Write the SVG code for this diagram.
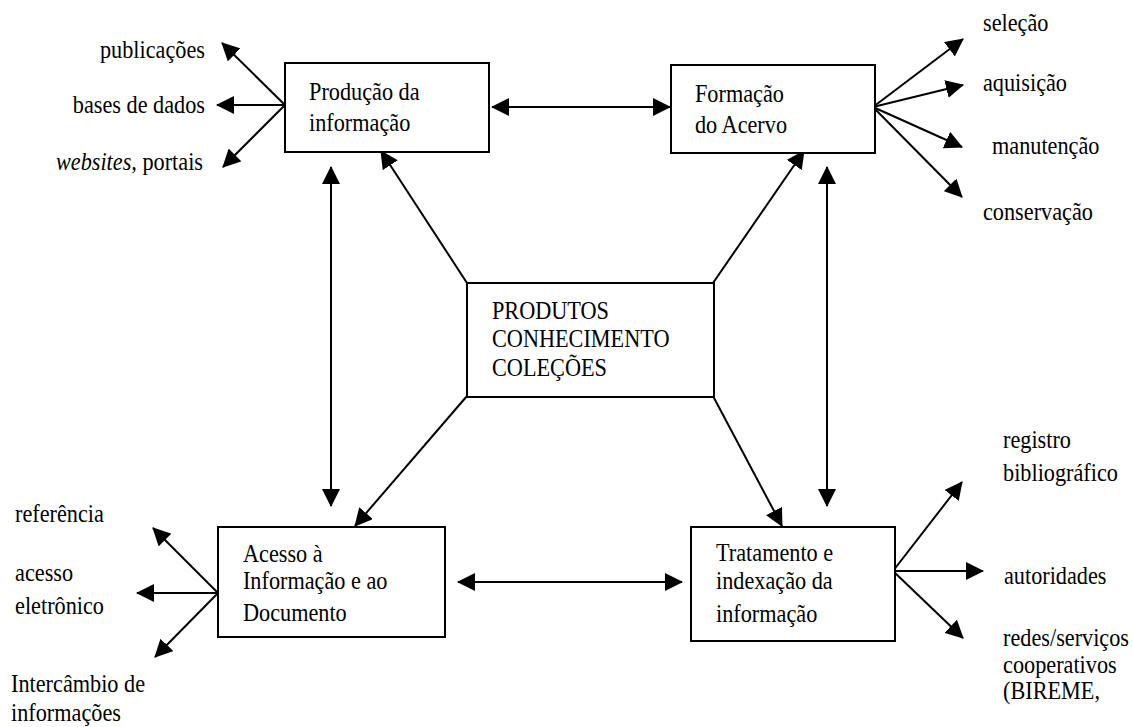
<svg xmlns="http://www.w3.org/2000/svg" width="1133" height="727" viewBox="0 0 1133 727">
<style>
text{font-family:'Liberation Serif','Times New Roman',serif;font-size:25px;fill:#000}
.box{fill:#fff;stroke:#000;stroke-width:2}
.c line{stroke:#000;stroke-width:2;marker-end:url(#ah)}
.c line.d{marker-start:url(#ah)}
.r{text-anchor:end}
</style>
<defs>
<marker id="ah" viewBox="0 0 18 18" refX="17" refY="9" markerWidth="18" markerHeight="18" markerUnits="userSpaceOnUse" orient="auto-start-reverse">
<path d="M0,0 L18,9 L0,18 z" fill="#000"/>
</marker>
</defs>
<rect width="1133" height="727" fill="#fff"/>
<g id="connectors" class="c">
<line class="d" x1="492" y1="107" x2="670" y2="107"/>
<line class="d" x1="458" y1="582" x2="682" y2="582"/>
<line class="d" x1="331" y1="167" x2="331" y2="506"/>
<line class="d" x1="827" y1="167" x2="827" y2="506"/>
<line x1="467" y1="283" x2="381" y2="151"/>
<line x1="713" y1="283" x2="804" y2="151"/>
<line x1="467" y1="396" x2="355" y2="526"/>
<line x1="713" y1="396" x2="782" y2="526"/>
<line x1="285" y1="105" x2="222" y2="43"/>
<line x1="285" y1="105" x2="217" y2="105"/>
<line x1="285" y1="105" x2="223" y2="167"/>
<line x1="873" y1="107" x2="963" y2="39"/>
<line x1="873" y1="107" x2="963" y2="85"/>
<line x1="873" y1="107" x2="962" y2="147"/>
<line x1="873" y1="107" x2="962" y2="197"/>
<line x1="893" y1="571" x2="962" y2="482"/>
<line x1="893" y1="571" x2="983" y2="571"/>
<line x1="893" y1="571" x2="963" y2="638"/>
<line x1="218" y1="593" x2="153" y2="528"/>
<line x1="218" y1="593" x2="137" y2="593"/>
<line x1="218" y1="593" x2="155" y2="657"/>
</g>
<g id="producao">
<rect class="box" x="285" y="63" width="204" height="89"/>
<g transform="scale(0.89,1)">
<text x="347.2" y="100">Produção da</text>
<text x="347.2" y="131">informação</text>
</g>
</g>
<g id="formacao">
<rect class="box" x="671" y="65" width="204" height="88"/>
<g transform="scale(0.89,1)">
<text x="780.9" y="102">Formação</text>
<text x="780.9" y="133">do Acervo</text>
</g>
</g>
<g id="centro">
<rect class="box" x="467" y="283" width="247" height="114"/>
<g transform="scale(0.89,1)">
<text x="552.8" y="319">PRODUTOS</text>
<text x="552.8" y="347">CONHECIMENTO</text>
<text x="552.8" y="376">COLEÇÕES</text>
</g>
</g>
<g id="acesso">
<rect class="box" x="218" y="527" width="227" height="110"/>
<g transform="scale(0.89,1)">
<text x="273" y="562">Acesso à</text>
<text x="273" y="589">Informação e ao</text>
<text x="273" y="621">Documento</text>
</g>
</g>
<g id="tratamento">
<rect class="box" x="691" y="527" width="204" height="114"/>
<g transform="scale(0.89,1)">
<text x="804.5" y="561">Tratamento e</text>
<text x="804.5" y="589">indexação da</text>
<text x="804.5" y="622">informação</text>
</g>
</g>
<g id="labels-producao" transform="scale(0.89,1)">
<text class="r" x="230.3" y="58">publicações</text>
<text class="r" x="230.3" y="113">bases de dados</text>
<text class="r" x="228.1" y="170"><tspan font-style="italic">websites,</tspan> portais</text>
</g>
<g id="labels-formacao" transform="scale(0.89,1)">
<text x="1104.5" y="31">seleção</text>
<text x="1104.5" y="91">aquisição</text>
<text x="1114.6" y="154">manutenção</text>
<text x="1104.5" y="220">conservação</text>
</g>
<g id="labels-acesso" transform="scale(0.89,1)">
<text x="16.9" y="522">referência</text>
<text x="16.9" y="581">acesso</text>
<text x="16.9" y="614">eletrônico</text>
<text x="12.4" y="692">Intercâmbio de</text>
<text x="12.4" y="721">informações</text>
</g>
<g id="labels-tratamento" transform="scale(0.89,1)">
<text x="1127" y="448">registro</text>
<text x="1127" y="481">bibliográfico</text>
<text x="1128.1" y="584">autoridades</text>
<text x="1127" y="646">redes/serviços</text>
<text x="1127" y="673">cooperativos</text>
<text x="1127" y="699">(BIREME,</text>
</g>
</svg>
